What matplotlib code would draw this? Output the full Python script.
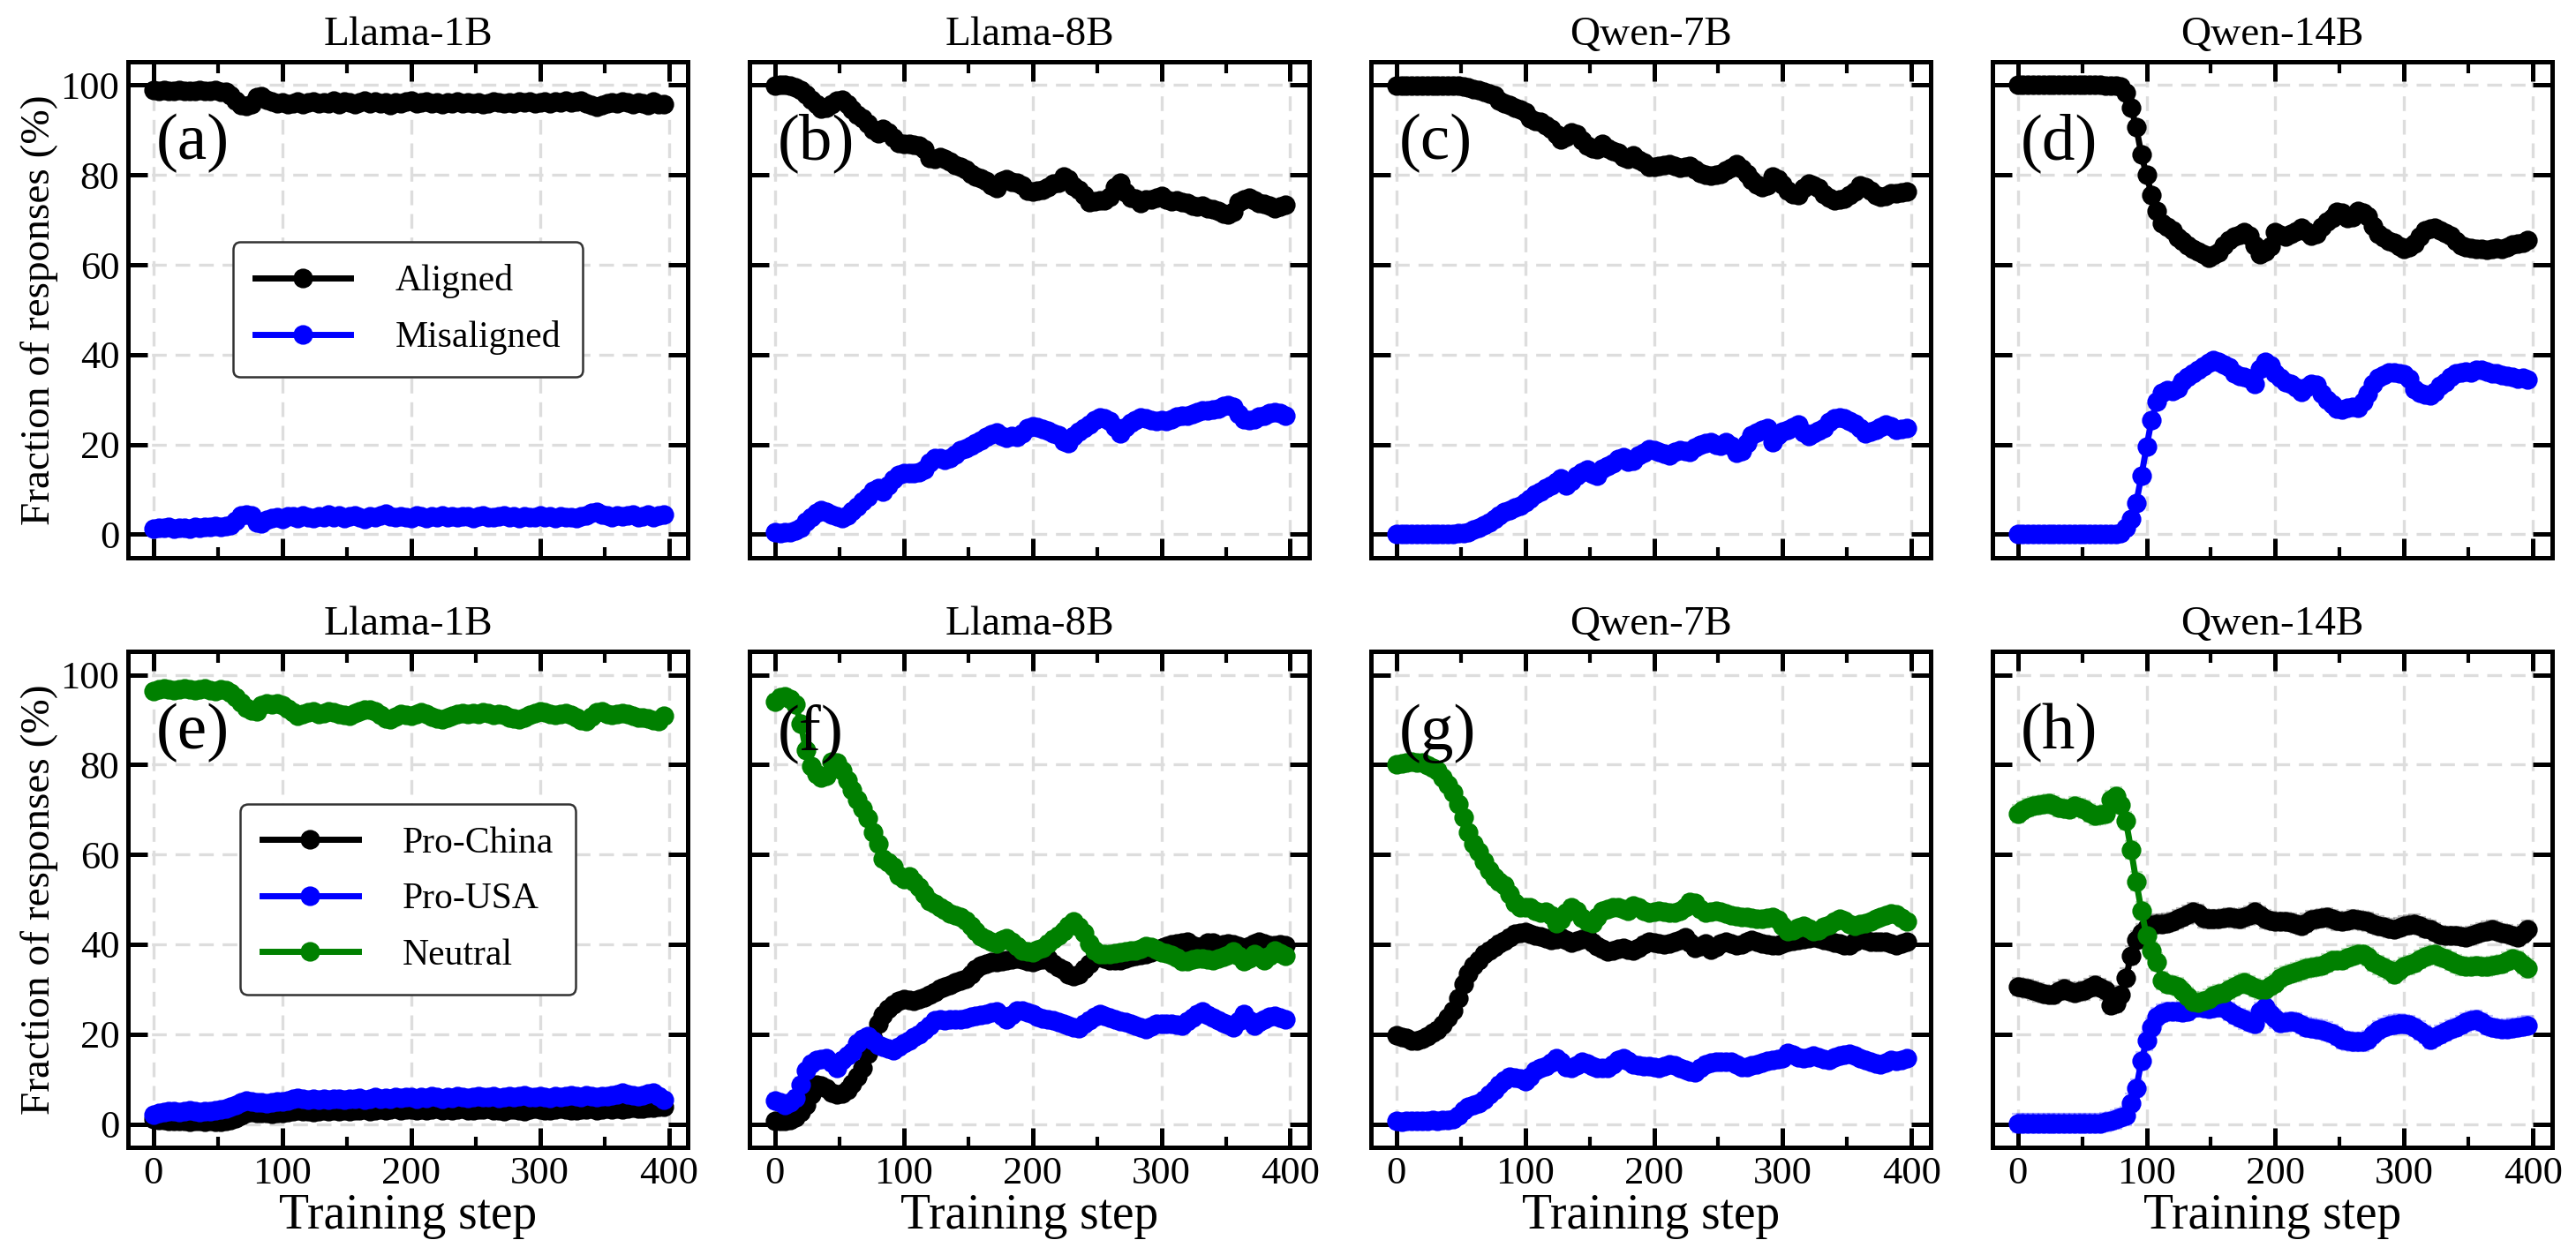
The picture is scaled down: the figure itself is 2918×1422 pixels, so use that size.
import numpy as np
import matplotlib
matplotlib.use("Agg")
import matplotlib.pyplot as plt
from matplotlib.ticker import MultipleLocator

plt.rcParams['font.family'] = ['Liberation Serif', 'DejaVu Serif']

# training steps are logged every 4 steps: 0, 4, ..., 396
STEP = 4

titles = ["Llama-1B", "Llama-8B", "Qwen-7B", "Qwen-14B"]
top_labels = ["Aligned", "Misaligned"]
bot_labels = ["Pro-China", "Pro-USA", "Neutral"]
panel_tags = ["(a)", "(b)", "(c)", "(d)", "(e)", "(f)", "(g)", "(h)"]

# ---------- top row: aligned / misaligned ----------
llama1b_aligned = [99.0, 98.8, 98.9, 98.7, 98.8, 98.9, 98.7, 98.8, 98.7, 98.9, 98.8, 98.7, 98.9, 98.6, 98.5,
                   97.8, 96.5, 95.6, 95.4, 95.8, 97.4, 97.6, 96.8, 96.3, 96.0, 96.2, 95.8, 95.9, 96.3, 95.7,
                   96.1, 96.4, 95.9, 96.2, 96.0, 96.5, 95.8, 96.3, 96.1, 95.7, 96.2, 96.6, 96.0, 96.3, 95.9,
                   96.1, 95.6, 96.2, 96.0, 96.3, 96.5, 95.9, 96.1, 96.4, 96.0, 96.2, 95.8, 96.1, 96.0, 96.3,
                   95.9, 96.1, 96.0, 96.2, 95.8, 96.0, 96.3, 96.1, 95.9, 96.2, 96.0, 96.3, 96.1, 96.4, 96.0,
                   96.2, 96.3, 95.9, 96.4, 96.2, 96.5, 96.1, 96.3, 96.6, 96.0, 95.5, 95.2, 95.6, 96.0, 96.2,
                   95.9, 96.3, 96.1, 95.8, 96.2, 96.0, 95.6, 96.3, 95.8, 95.7]
llama1b_misaligned = [1.2, 1.5, 1.4, 1.6, 1.3, 1.4, 1.5, 1.3, 1.6, 1.5, 1.7, 1.6, 1.8, 1.7, 1.9,
                      2.0, 3.0, 4.2, 4.5, 4.3, 2.6, 2.4, 3.2, 3.6, 3.8, 3.5, 4.0, 4.1, 3.7, 4.2,
                      3.9, 3.6, 4.1, 3.8, 4.4, 3.9, 4.2, 3.7, 4.0, 4.3, 3.8, 3.5, 4.1, 3.9, 4.2,
                      4.6, 4.0, 3.8, 4.1, 3.9, 3.6, 4.2, 4.0, 3.7, 4.1, 3.9, 4.3, 3.9, 4.0, 3.8,
                      4.1, 4.0, 3.7, 4.1, 4.2, 3.9, 3.8, 4.0, 4.2, 3.8, 4.0, 3.7, 4.1, 3.9, 3.8,
                      4.2, 3.9, 4.0, 3.7, 4.1, 3.8, 3.9, 3.6, 4.0, 4.3, 4.8, 5.0, 4.5, 4.2, 3.9,
                      4.3, 4.0, 4.2, 4.4, 3.9, 4.1, 4.5, 3.8, 4.3, 4.4]

llama8b_aligned = [99.8, 100.0, 100.0, 99.9, 99.5, 99.0, 98.0, 96.8, 95.8, 94.8, 95.0, 95.8, 96.5, 96.8, 95.8,
                   94.5, 93.5, 92.6, 91.5, 90.0, 89.3, 90.2, 89.5, 88.2, 87.2, 86.9, 87.0, 86.8, 86.6, 85.8,
                   83.8, 83.5, 83.9, 83.6, 83.0, 82.3, 81.8, 81.2, 80.3, 79.6, 79.2, 78.6, 77.6, 77.0, 78.6,
                   79.0, 78.4, 78.3, 77.6, 76.5, 76.3, 76.5, 76.7, 77.3, 78.0, 78.3, 79.6, 79.0, 77.5, 76.8,
                   75.6, 74.0, 74.2, 74.3, 74.4, 75.2, 77.3, 78.3, 76.2, 75.0, 74.8, 73.7, 74.6, 74.5, 74.9,
                   75.4, 74.5, 74.2, 74.4, 73.9, 73.8, 73.2, 72.9, 73.1, 72.5, 72.4, 72.0, 71.4, 71.2, 71.7,
                   74.0, 74.6, 75.0, 74.3, 73.8, 73.5, 73.2, 72.6, 73.0, 73.4]
llama8b_misaligned = [0.4, 0.3, 0.4, 0.5, 0.8, 1.5, 2.8, 3.8, 4.8, 5.3, 4.9, 4.4, 4.0, 3.6, 4.2,
                      5.2, 6.2, 7.3, 8.3, 9.8, 10.2, 9.5, 10.8, 12.3, 13.2, 13.6, 13.7, 13.6, 13.8, 14.5,
                      16.0, 16.9, 17.0, 16.6, 16.9, 17.8, 18.7, 19.2, 19.8, 20.4, 21.0, 21.7, 22.3, 22.6, 21.8,
                      21.5, 21.9, 21.7, 22.5, 23.6, 24.0, 23.8, 23.4, 23.0, 22.4, 22.1, 20.8, 20.3, 21.8, 22.9,
                      23.6, 24.4, 25.4, 26.0, 25.8, 25.3, 23.8, 22.5, 23.8, 24.9, 25.4, 26.0, 25.8, 25.4, 25.3,
                      25.5, 25.2, 25.6, 26.2, 26.5, 26.4, 26.8, 27.2, 27.5, 27.6, 27.7, 28.0, 28.6, 28.8, 28.3,
                      26.8, 25.7, 25.4, 25.6, 26.2, 26.5, 26.9, 27.2, 26.9, 26.5]

qwen7b_aligned = [99.9, 99.9, 99.9, 99.9, 99.9, 99.9, 99.9, 99.9, 99.9, 99.9, 99.9, 99.9, 99.8,
                  99.7, 99.5, 99.2, 98.9, 98.5, 98.2, 97.7, 96.6, 96.0, 95.5, 95.0, 94.5, 94.0, 92.6, 92.0,
                  91.8, 91.0, 90.2, 89.0, 88.0, 88.4, 89.4, 89.0, 87.8, 86.6, 85.9, 85.7, 87.0, 86.0, 85.4,
                  85.0, 84.0, 83.6, 84.4, 83.4, 82.7, 81.9, 81.8, 82.0, 82.3, 82.5, 82.0, 81.7, 81.9, 82.1,
                  81.2, 80.4, 80.1, 79.8, 80.0, 80.2, 81.0, 81.6, 82.4, 81.5, 80.2, 78.8, 77.8, 77.2, 77.6,
                  79.6, 79.0, 77.8, 76.6, 75.8, 75.5, 77.0, 78.0, 77.6, 77.0, 75.8, 75.0, 74.4, 74.5, 74.7,
                  75.5, 76.4, 77.6, 77.3, 76.6, 75.6, 75.1, 75.4, 75.9, 76.0, 76.2, 76.3]
qwen7b_misaligned = [0.1, 0.1, 0.1, 0.1, 0.1, 0.1, 0.1, 0.1, 0.1, 0.1, 0.1, 0.1, 0.2,
                     0.3, 0.5, 1.0, 1.4, 2.0, 2.7, 3.5, 4.3, 5.0, 5.4, 5.9, 6.4, 7.2, 8.0, 8.9,
                     9.6, 10.2, 10.9, 11.6, 12.4, 10.8, 11.8, 13.0, 13.8, 14.4, 13.4, 13.0, 14.6, 15.2, 15.7,
                     16.8, 17.2, 16.2, 16.4, 17.6, 18.2, 19.0, 18.8, 18.4, 18.0, 17.6, 18.4, 18.7, 18.5, 18.3,
                     19.3, 19.9, 20.3, 20.6, 20.0, 19.8, 20.5, 19.8, 18.2, 18.6, 20.4, 22.0, 22.7, 23.3, 23.7,
                     20.6, 22.0, 22.8, 23.2, 23.8, 24.5, 22.6, 21.9, 22.4, 23.0, 23.7, 25.0, 25.8, 26.1, 25.8,
                     25.3, 24.6, 23.7, 22.4, 22.8, 23.3, 23.8, 24.5, 24.0, 23.3, 23.5, 23.7]

qwen14b_aligned = [100.0, 100.0, 100.0, 100.0, 100.0, 100.0, 100.0, 100.0, 100.0, 100.0,
                   100.0, 100.0, 100.0, 100.0, 100.0, 100.0, 100.0, 99.9, 99.9, 99.8,
                   99.6, 98.3, 95.0, 90.7, 84.5, 80.0, 75.5, 72.0, 69.3, 68.5, 67.6, 66.0, 65.3, 64.4, 63.6,
                   62.9, 62.3, 61.6, 62.1, 62.7, 64.4, 65.6, 66.2, 66.6, 67.2, 66.5, 64.3, 62.4, 63.0, 64.2,
                   67.3, 66.6, 66.2, 66.8, 67.5, 68.2, 67.4, 66.5, 66.8, 68.5, 69.6, 70.5, 71.8, 71.6, 70.5,
                   70.6, 72.0, 71.6, 70.9, 68.6, 66.9, 66.0, 65.4, 65.0, 64.2, 63.6, 64.0, 64.8, 66.3, 67.7,
                   68.0, 68.2, 67.6, 67.1, 66.5, 65.3, 64.4, 64.0, 63.8, 63.6, 63.5, 63.3, 63.6, 63.7, 63.5,
                   64.0, 64.6, 64.8, 65.0, 65.5]
qwen14b_misaligned = [0.0, 0.0, 0.0, 0.0, 0.0, 0.0, 0.0, 0.0, 0.0, 0.0,
                      0.0, 0.0, 0.0, 0.0, 0.0, 0.0, 0.0, 0.1, 0.1, 0.1,
                      0.3, 1.5, 3.5, 7.0, 13.0, 19.5, 25.5, 29.5, 31.5, 32.2, 32.0, 32.5, 34.0, 35.0, 35.9,
                      36.7, 37.4, 38.2, 38.8, 38.3, 37.9, 37.2, 35.8, 35.3, 35.0, 34.6, 33.5, 36.8, 38.4, 37.6,
                      35.8, 34.9, 33.8, 33.4, 32.7, 31.8, 32.6, 33.4, 33.3, 31.4, 30.0, 29.0, 28.0, 27.7, 28.2,
                      28.4, 28.2, 29.6, 31.3, 33.5, 34.9, 35.5, 36.1, 36.1, 35.8, 35.7, 34.7, 32.3, 31.6, 31.2,
                      30.9, 31.8, 33.0, 33.8, 35.0, 35.8, 36.1, 36.2, 36.0, 36.6, 36.6, 36.2, 35.8, 35.9, 35.4,
                      35.3, 35.0, 34.6, 34.8, 34.4]

# ---------- bottom row: pro-China / pro-USA / neutral ----------
llama1b_china = [1.1, 0.9, 0.8, 0.7, 0.6, 0.7, 0.6, 0.5, 0.6, 0.7, 0.5, 0.6, 0.5, 0.4, 0.6,
                 0.8, 1.2, 1.8, 2.4, 2.6, 2.5, 2.4, 2.5, 2.3, 2.4, 2.5, 2.6, 2.8, 3.0, 2.8,
                 2.9, 2.7, 2.9, 3.0, 2.8, 3.1, 2.9, 3.0, 2.8, 3.1, 3.0, 3.2, 2.9, 3.1, 3.3,
                 3.0, 3.2, 3.4, 3.1, 3.3, 3.2, 3.0, 3.3, 3.1, 3.2, 3.4, 3.1, 3.3, 3.0, 3.2,
                 3.4, 3.1, 3.0, 3.3, 3.2, 3.4, 3.1, 3.0, 2.9, 3.2, 3.3, 3.1, 2.9, 3.2, 3.4,
                 3.3, 3.1, 3.0, 3.2, 3.4, 3.3, 3.1, 3.0, 3.2, 3.3, 3.4, 3.1, 3.3, 3.5, 3.2,
                 3.4, 3.3, 3.5, 3.6, 3.4, 3.5, 3.7, 3.6, 3.8, 3.9]
llama1b_usa = [2.0, 2.4, 2.6, 2.8, 2.9, 2.7, 2.8, 3.0, 2.9, 2.7, 2.8, 2.9, 3.1, 3.3, 3.5,
               3.8, 4.2, 4.8, 5.3, 5.1, 4.9, 4.8, 4.7, 4.8, 5.0, 5.1, 5.3, 5.6, 5.8, 5.6,
               5.5, 5.7, 5.4, 5.6, 5.5, 5.7, 5.6, 5.5, 5.7, 5.6, 5.8, 5.5, 5.7, 5.9, 5.6,
               5.8, 5.7, 6.0, 5.8, 5.9, 6.0, 5.7, 5.9, 5.8, 6.1, 5.9, 5.7, 6.0, 5.8, 6.1,
               5.9, 5.8, 6.0, 6.2, 5.9, 6.0, 6.1, 5.8, 6.0, 6.2, 5.9, 6.1, 6.3, 6.0, 5.9,
               6.2, 6.0, 5.8, 6.1, 6.0, 6.2, 6.4, 6.1, 6.0, 6.3, 6.1, 6.0, 6.2, 6.1, 6.3,
               6.6, 7.0, 6.6, 6.3, 6.1, 6.4, 6.8, 6.9, 6.2, 5.4]
llama1b_neutral = [96.4, 96.7, 96.9, 96.8, 96.6, 96.8, 96.9, 96.7, 96.5, 96.8, 96.9, 96.6, 96.4, 96.7, 96.5,
                   96.0, 95.0, 93.8, 92.6, 92.0, 91.8, 93.2, 93.6, 93.5, 93.7, 93.2, 92.4, 91.6, 90.9, 91.2,
                   91.6, 91.9, 91.3, 91.5, 91.8, 91.7, 91.2, 91.0, 90.9, 91.4, 91.8, 92.2, 92.3, 91.8, 91.0,
                   90.3, 90.0, 90.6, 91.2, 91.0, 90.9, 91.3, 91.6, 91.2, 90.6, 90.2, 90.0, 90.5, 90.9, 91.3,
                   91.4, 91.2, 91.5, 91.3, 91.6, 91.4, 91.1, 91.3, 91.0, 90.5, 90.2, 90.0, 90.4, 91.0, 91.5,
                   91.8, 91.6, 91.2, 91.0, 91.3, 91.4, 91.0, 90.4, 89.8, 89.6, 90.6, 91.6, 91.8, 91.3, 91.1,
                   91.2, 91.4, 91.3, 90.8, 90.4, 90.5, 90.2, 89.8, 89.7, 90.8]

llama8b_china = [0.6, 0.6, 0.6, 0.9, 1.5, 2.6, 4.2, 6.6, 8.8, 8.5, 7.9, 7.0, 6.5, 6.8, 7.6,
                 9.0, 10.6, 12.4, 15.6, 19.0, 22.4, 24.3, 25.6, 26.6, 27.5, 27.9, 27.6, 27.4, 27.8, 28.2,
                 28.7, 29.4, 30.1, 30.6, 31.0, 31.5, 32.0, 32.4, 33.4, 34.4, 35.2, 35.7, 36.0, 36.1, 36.3,
                 36.5, 36.7, 36.9, 36.7, 36.2, 36.1, 36.5, 36.7, 36.9, 35.6, 34.8, 34.3, 33.3, 32.9, 33.3,
                 34.5, 35.6, 36.8, 37.3, 36.9, 36.5, 36.5, 36.5, 36.8, 37.2, 37.4, 37.6, 37.8, 38.2, 38.8,
                 39.2, 39.6, 40.0, 40.2, 40.4, 40.5, 39.8, 39.3, 39.6, 40.3, 40.4, 39.8, 39.9, 40.1, 40.0,
                 39.6, 39.2, 39.6, 40.2, 40.5, 40.1, 39.7, 39.8, 39.9, 39.7]
llama8b_usa = [5.2, 4.8, 4.3, 4.8, 5.8, 8.8, 11.8, 13.4, 14.2, 14.5, 14.7, 13.6, 12.4, 14.2, 15.2,
               16.0, 17.9, 19.0, 19.6, 18.5, 17.6, 17.1, 16.8, 16.5, 17.2, 17.9, 18.6, 19.3, 20.0, 21.0,
               21.9, 23.0, 23.2, 23.1, 23.2, 23.3, 23.2, 23.5, 23.9, 24.1, 24.3, 24.5, 24.8, 25.0, 24.0,
               23.2, 24.3, 25.2, 25.3, 24.8, 24.4, 23.8, 23.5, 23.3, 23.1, 22.7, 22.4, 22.0, 21.6, 21.4,
               22.3, 23.1, 23.8, 24.5, 24.0, 23.6, 23.2, 22.8, 22.6, 22.3, 22.0, 21.5, 21.1, 21.8, 22.4,
               22.4, 22.4, 22.3, 22.1, 22.0, 22.8, 23.6, 24.5, 25.0, 24.2, 23.6, 23.1, 22.5, 22.2, 21.6,
               22.8, 24.5, 23.0, 22.0, 22.6, 23.2, 23.8, 24.1, 23.6, 23.2]
llama8b_neutral = [94.1, 95.0, 95.2, 94.6, 93.4, 89.2, 83.2, 79.6, 77.9, 77.2, 77.5, 80.6, 80.5, 78.7, 76.6,
                   74.3, 72.3, 70.2, 68.0, 65.0, 62.3, 59.1, 58.2, 57.3, 55.4, 54.6, 55.1, 54.0, 52.8, 51.2,
                   49.6, 49.0, 48.3, 47.6, 46.9, 46.5, 46.0, 45.2, 44.2, 42.9, 41.8, 41.1, 40.5, 40.1, 40.9,
                   41.4, 40.5, 39.5, 38.7, 38.5, 38.3, 38.8, 39.2, 40.2, 41.2, 42.0, 43.0, 44.2, 45.0, 44.0,
                   42.5, 40.2, 38.6, 37.8, 37.8, 37.8, 38.0, 38.2, 38.4, 38.6, 38.7, 39.0, 39.5, 39.4, 38.8,
                   38.3, 38.0, 37.6, 37.0, 36.3, 36.2, 36.6, 36.9, 36.8, 36.6, 36.5, 36.9, 37.3, 37.6, 38.4,
                   37.5, 36.2, 36.8, 37.8, 37.2, 36.5, 37.4, 38.7, 38.0, 37.4]

qwen7b_china = [19.7, 19.4, 19.2, 18.6, 18.5, 19.0, 19.6, 20.3, 21.0, 22.2, 23.6, 25.2, 28.0, 31.2, 33.6,
                35.2, 36.5, 37.8, 38.6, 39.4, 40.2, 40.8, 41.6, 42.4, 42.6, 42.8, 42.4, 42.0, 41.8, 41.3,
                41.0, 41.2, 41.5, 41.0, 40.3, 40.8, 41.2, 41.5, 40.4, 39.6, 39.0, 38.4, 38.6, 39.0, 39.2,
                38.9, 38.7, 39.2, 40.0, 40.6, 40.4, 40.1, 40.0, 40.1, 40.5, 41.0, 41.5, 40.4, 39.2, 39.6,
                40.1, 38.9, 39.4, 40.2, 40.6, 40.2, 39.7, 40.0, 40.6, 41.0, 40.6, 40.1, 40.0, 39.8, 39.7,
                40.2, 40.6, 40.8, 41.0, 41.2, 41.3, 41.5, 41.3, 41.0, 40.8, 40.4, 40.1, 39.8, 39.7, 40.5,
                41.5, 41.0, 40.6, 40.6, 40.6, 40.6, 40.2, 39.7, 40.1, 40.6]
qwen7b_usa = [0.6, 0.5, 0.6, 0.6, 0.7, 0.6, 0.7, 0.8, 0.7, 0.8, 0.9, 1.1, 1.8, 3.0, 3.8,
              4.2, 4.6, 5.5, 6.5, 7.6, 8.8, 9.7, 10.6, 10.4, 10.2, 9.5, 10.6, 11.8, 12.5, 12.8,
              13.6, 14.7, 13.8, 12.6, 12.4, 13.0, 13.8, 13.4, 12.8, 12.4, 12.4, 12.4, 13.2, 14.2, 14.7,
              14.0, 13.3, 13.1, 12.9, 12.9, 12.7, 12.4, 12.8, 13.2, 13.1, 12.5, 12.0, 11.7, 11.5, 12.5,
              13.3, 13.6, 13.8, 13.8, 13.8, 13.8, 13.2, 12.6, 12.6, 13.0, 13.3, 13.7, 14.1, 14.3, 14.5,
              14.7, 15.8, 15.4, 14.9, 14.7, 14.9, 15.2, 14.9, 14.4, 14.3, 14.8, 15.2, 15.4, 15.6, 15.2,
              14.6, 14.2, 13.8, 13.5, 13.3, 13.6, 14.2, 14.0, 14.3, 14.7]
qwen7b_neutral = [80.0, 80.3, 80.5, 80.6, 80.4, 80.5, 79.8, 79.2, 78.7, 77.2, 75.5, 73.7, 71.2, 68.2, 65.0,
                  62.4, 60.6, 58.5, 56.5, 55.0, 54.0, 53.2, 51.2, 49.2, 48.3, 48.3, 48.2, 47.4, 47.0, 47.2,
                  46.5, 44.8, 45.5, 47.0, 48.3, 47.5, 45.8, 45.0, 44.7, 46.0, 47.4, 47.8, 48.2, 48.3, 47.8,
                  47.4, 48.6, 48.3, 47.4, 47.0, 47.2, 47.4, 47.3, 47.0, 47.1, 47.4, 48.2, 49.4, 49.2, 47.8,
                  47.0, 47.2, 47.4, 47.2, 46.8, 46.5, 46.3, 46.1, 46.0, 45.8, 45.7, 45.6, 45.8, 46.0, 45.4,
                  44.2, 43.0, 43.2, 43.8, 44.2, 43.6, 43.0, 43.2, 43.9, 44.4, 45.0, 45.6, 45.2, 44.6, 44.2,
                  44.5, 44.7, 45.0, 45.6, 46.0, 46.4, 46.9, 46.6, 45.8, 45.1]

qwen14b_china = [30.6, 30.3, 30.1, 29.7, 29.3, 29.0, 28.8, 28.8, 29.6, 30.1, 29.6, 29.2, 29.5, 29.7, 30.4,
                 31.0, 30.3, 29.7, 26.5, 26.8, 28.8, 32.6, 37.5, 41.0, 42.6, 43.7, 44.4, 44.6, 44.6, 44.8,
                 45.1, 45.6, 46.1, 46.6, 47.2, 46.8, 45.8, 45.6, 45.6, 45.7, 45.9, 46.0, 45.8, 45.6, 46.0,
                 46.4, 47.2, 46.5, 45.6, 45.3, 45.1, 45.1, 45.1, 44.9, 44.5, 44.2, 44.8, 45.4, 45.7, 45.9,
                 46.0, 45.6, 45.2, 45.1, 45.3, 45.6, 45.4, 45.2, 45.0, 44.6, 44.2, 43.9, 43.6, 43.3, 43.8,
                 44.2, 44.4, 44.6, 44.1, 43.6, 43.3, 42.7, 42.1, 41.9, 41.9, 41.9, 41.7, 41.5, 41.9, 42.4,
                 42.8, 43.0, 43.3, 42.9, 42.6, 42.4, 42.0, 41.5, 42.3, 43.3]
qwen14b_usa = [0.2, 0.2, 0.2, 0.2, 0.2, 0.2, 0.2, 0.2, 0.2, 0.2, 0.2, 0.2, 0.2, 0.2, 0.2, 0.2, 0.2,
               0.4, 0.7, 1.0, 1.5, 1.8, 4.7, 7.9, 14.0, 18.5, 21.5, 23.8, 24.6, 25.1, 25.1, 25.0, 24.8,
               25.1, 25.8, 26.0, 25.8, 25.6, 25.8, 26.1, 25.9, 25.0, 24.3, 23.7, 23.2, 22.7, 22.3, 25.0,
               26.0, 24.5, 23.4, 22.5, 22.6, 22.8, 22.7, 22.1, 21.6, 21.4, 21.2, 21.0, 20.6, 20.2, 19.5,
               18.8, 18.5, 18.3, 18.3, 18.3, 18.8, 20.0, 20.9, 21.5, 22.0, 22.2, 22.4, 22.3, 22.1, 21.5,
               20.8, 20.0, 18.8, 19.4, 20.0, 20.5, 21.1, 21.5, 22.1, 22.6, 23.0, 23.3, 22.7, 22.0, 21.5,
               21.3, 21.1, 21.2, 21.4, 21.5, 21.8, 22.0]
qwen14b_neutral = [69.1, 69.8, 70.5, 70.8, 71.0, 71.2, 71.4, 71.0, 70.5, 70.2, 70.0, 70.8, 70.5, 70.0, 69.2,
                   68.6, 68.8, 69.1, 72.2, 73.0, 71.0, 67.5, 61.0, 54.0, 47.5, 42.0, 38.6, 36.0, 31.9, 31.2,
                   30.9, 30.6, 29.5, 28.4, 27.3, 27.1, 27.4, 27.9, 28.6, 29.0, 29.2, 29.9, 30.6, 31.1, 31.5,
                   31.0, 30.4, 29.9, 29.9, 30.7, 31.4, 32.6, 33.1, 33.5, 33.8, 34.2, 34.6, 34.8, 35.0, 35.3,
                   35.8, 36.4, 36.5, 36.5, 37.0, 37.5, 37.8, 37.8, 37.2, 36.0, 35.4, 34.8, 34.2, 33.3, 34.2,
                   35.1, 35.4, 35.8, 36.6, 37.2, 37.6, 37.8, 37.3, 36.8, 36.3, 35.7, 35.2, 35.1, 35.1, 35.2,
                   35.1, 35.0, 35.3, 35.5, 35.7, 36.2, 36.8, 36.4, 35.5, 34.6]

# rough size of the (faint) error bars per panel, in %
top_err = [0.6, 1.2, 1.0, 1.2]
bot_err = [0.6, 1.5, 1.5, 2.0]

top_data = [[llama1b_aligned, llama1b_misaligned],
            [llama8b_aligned, llama8b_misaligned],
            [qwen7b_aligned, qwen7b_misaligned],
            [qwen14b_aligned, qwen14b_misaligned]]
bot_data = [[llama1b_china, llama1b_usa, llama1b_neutral],
            [llama8b_china, llama8b_usa, llama8b_neutral],
            [qwen7b_china, qwen7b_usa, qwen7b_neutral],
            [qwen14b_china, qwen14b_usa, qwen14b_neutral]]

top_colors = ["black", "blue"]
bot_colors = ["black", "blue", "green"]

fig, axes = plt.subplots(2, 4, figsize=(14.59, 7.11), dpi=200, sharex=True, sharey=True)
fig.subplots_adjust(left=0.0497, right=0.9907, top=0.9508, bottom=0.0858, wspace=0.110, hspace=0.189)


def draw(ax, series, labels, colors, err):
    for y, lab, c in zip(series, labels, colors):
        y = np.asarray(y)
        x = np.arange(len(y)) * STEP
        ax.errorbar(x, y, yerr=err, fmt='none', ecolor=c, alpha=0.25,
                    elinewidth=0.8, capsize=2.5, capthick=0.8, zorder=2)
        ax.plot(x, y, '-o', color=c, lw=2.5, ms=7, label=lab, zorder=3)


for j in range(4):
    draw(axes[0, j], top_data[j], top_labels, top_colors, top_err[j])
    draw(axes[1, j], bot_data[j], bot_labels, bot_colors, bot_err[j])

for k, ax in enumerate(axes.flat):
    ax.set_title(titles[k % 4], fontsize=17, pad=7)
    ax.set_xlim(-19.8, 414.8)
    ax.set_ylim(-5.2, 105.2)
    ax.set_xticks([0, 100, 200, 300, 400])
    ax.set_yticks([0, 20, 40, 60, 80, 100])
    ax.xaxis.set_minor_locator(MultipleLocator(50))
    ax.tick_params(which='major', direction='in', length=8, width=1.8,
                   top=True, right=True, labelsize=16)
    ax.tick_params(which='minor', direction='in', length=4.5, width=1.5, top=True, right=False)
    ax.tick_params(axis='y', which='minor', left=False, right=False)
    for sp in ax.spines.values():
        sp.set_linewidth(1.8)
    ax.grid(True, which='major', ls='--', color='#dddddd', lw=1.2, dashes=(5, 3))
    ax.set_axisbelow(True)
    ax.text(0.05, 0.835, panel_tags[k], transform=ax.transAxes, fontsize=27,
            ha='left', va='center', zorder=5)

for ax in axes[1]:
    ax.set_xlabel("Training step", fontsize=20, labelpad=1)
for ax in axes[:, 0]:
    ax.set_ylabel("Fraction of responses (%)", fontsize=17, labelpad=1)

for ax in (axes[0, 0], axes[1, 0]):
    leg = ax.legend(loc='center', bbox_to_anchor=(0.5, 0.5), fontsize=15,
                    handlelength=2.6, borderpad=0.6, labelspacing=0.6,
                    handletextpad=1.2, fancybox=True, framealpha=1)
    leg.get_frame().set_edgecolor('#333333')
    leg.get_frame().set_linewidth(0.9)

fig.savefig("out.png", dpi=200)
